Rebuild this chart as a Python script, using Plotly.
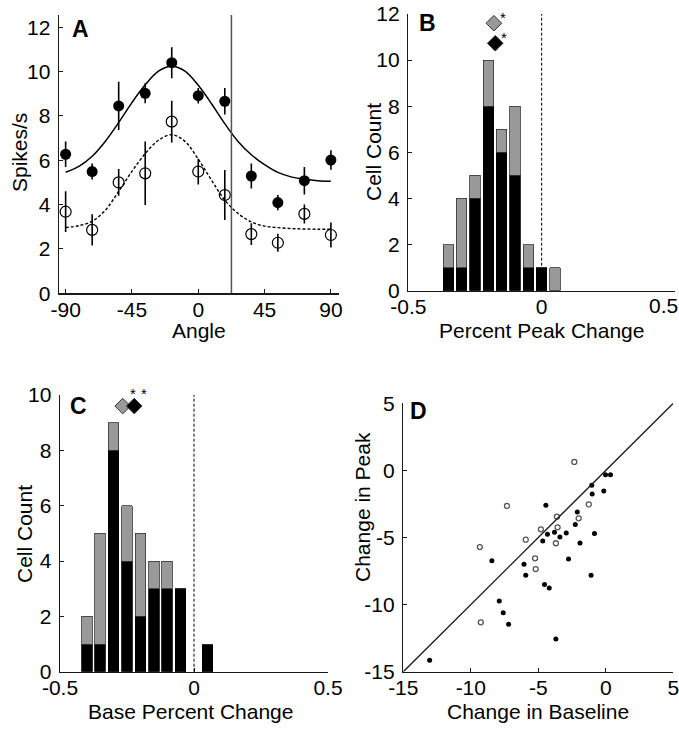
import plotly.graph_objects as go

W, H = 679, 735
FONT = "Liberation Sans, Arial, sans-serif"

# ---------------- Panel A data ----------------
angles = [-90, -72, -54, -36, -18, 0, 18, 36, 54, 72, 90]
control_rate = [6.27, 5.49, 8.45, 9.02, 10.40, 8.91, 8.66, 5.29, 4.09, 5.08, 6.01]
control_err = [0.58, 0.36, 1.09, 0.45, 0.70, 0.35, 0.60, 0.56, 0.34, 0.62, 0.44]
test_rate = [3.68, 2.86, 5.00, 5.41, 7.74, 5.49, 4.43, 2.67, 2.28, 3.58, 2.63]
test_err = [0.92, 0.71, 0.60, 1.43, 0.94, 0.58, 1.13, 0.49, 0.41, 0.43, 0.56]
fit_angles = [-90, -81, -72, -63, -54, -45, -36, -27, -18, -9, 0, 9, 18, 27, 36, 45, 54, 63, 72, 81, 90]
control_fit = [5.46, 5.72, 6.18, 6.86, 7.70, 8.60, 9.40, 10.02, 10.24, 10.02, 9.38, 8.55, 7.65, 6.85, 6.25,
               5.80, 5.45, 5.25, 5.15, 5.08, 5.05]
test_fit = [2.97, 3.05, 3.25, 3.75, 4.60, 5.50, 6.30, 6.90, 7.15, 6.85, 6.05, 5.10, 4.20, 3.60, 3.22,
            3.03, 2.96, 2.92, 2.90, 2.89, 2.89]
boundary_angle = 22.5
a_xticks = [-90, -45, 0, 45, 90]
a_xticktext = ["-90", "-45", "0", "45", "90"]
a_yticks = [0, 2, 4, 6, 8, 10, 12]

# ---------------- Panel B data ----------------
b_bins = [-0.35, -0.30, -0.25, -0.20, -0.15, -0.10, -0.05, 0.00, 0.05]
b_black = [1, 1, 4, 8, 6, 5, 1, 1, 0]
b_gray = [1, 3, 1, 2, 1, 3, 1, 0, 1]
b_mean_x = [-0.179, -0.174]
b_mean_y = [11.6, 10.73]

# ---------------- Panel C data ----------------
c_bins = [-0.40, -0.35, -0.30, -0.25, -0.20, -0.15, -0.10, -0.05, 0.05]
c_black = [1, 1, 8, 4, 2, 3, 3, 3, 1]
c_gray = [1, 4, 1, 2, 3, 1, 1, 0, 0]
c_mean_x = [-0.266, -0.223]
c_mean_y = [9.6, 9.6]

hist_xticks = [-0.5, 0, 0.5]
hist_xticktext = ["-0.5", "0", "0.5"]

# ---------------- Panel D data ----------------
d_open_x = [-2.33, -7.32, -3.62, -1.26, -2.01, -4.81, -3.57, -5.93, -3.70, -9.33, -5.24, -5.19, -9.26]
d_open_y = [0.63, -2.65, -3.45, -2.53, -3.57, -4.39, -4.24, -5.16, -5.43, -5.71, -6.55, -7.35, -11.32]
d_fill_x = [-0.02, 0.35, -1.04, -1.01, -0.15, -4.44, -2.11, -2.26, -0.84, -2.93, -4.32, -3.80, -3.40,
            -4.67, -1.91, -8.44, -2.76, -6.06, -5.93, -1.09, -4.54, -4.19, -7.89, -7.60, -7.20, -3.70, -13.05]
d_fill_y = [-0.33, -0.33, -1.11, -1.76, -1.53, -2.60, -3.10, -4.04, -4.71, -4.66, -4.76, -4.61, -4.96,
            -5.26, -5.41, -6.73, -6.60, -7.00, -7.82, -7.82, -8.51, -8.76, -9.73, -10.60, -11.47, -12.56, -14.15]
d_ticks = [-15, -10, -5, 0, 5]
d_ticktext = ["-15", "-10", "-5", "0", "5"]


def px_x(p):
    return p / W


def px_y(p):
    return 1 - p / H


fig = go.Figure()

# ---- Panel A ----
fig.add_trace(go.Scatter(x=fit_angles, y=control_fit, mode="lines", line=dict(color="black", width=1.5, shape="spline"),
                         xaxis="x", yaxis="y"))
fig.add_trace(go.Scatter(x=fit_angles, y=test_fit, mode="lines",
                         line=dict(color="black", width=1.4, dash="3px,2px", shape="spline"),
                         xaxis="x", yaxis="y"))
fig.add_trace(go.Scatter(x=angles, y=control_rate, mode="markers",
                         marker=dict(color="black", size=11, symbol="circle"),
                         error_y=dict(type="data", array=control_err, color="black", thickness=1.6, width=0),
                         xaxis="x", yaxis="y", cliponaxis=False))
fig.add_trace(go.Scatter(x=angles, y=test_rate, mode="markers",
                         marker=dict(color="black", size=11, symbol="circle-open", line=dict(width=1.2)),
                         error_y=dict(type="data", array=test_err, color="black", thickness=1.6, width=0),
                         xaxis="x", yaxis="y", cliponaxis=False))

# ---- Panel B ----
bar_w = 0.039
fig.add_trace(go.Bar(x=b_bins, y=b_black, width=bar_w, marker=dict(color="black", line=dict(color="black", width=0.8)),
                     xaxis="x2", yaxis="y2"))
fig.add_trace(go.Bar(x=b_bins, y=b_gray, width=bar_w, marker=dict(color="#999999", line=dict(color="#333333", width=0.8)),
                     xaxis="x2", yaxis="y2"))
fig.add_trace(go.Scatter(x=b_mean_x, y=b_mean_y, mode="markers",
                         marker=dict(color=["#999999", "black"], size=12, symbol="diamond",
                                     line=dict(color="#333333", width=1)),
                         xaxis="x2", yaxis="y2", cliponaxis=False))

# ---- Panel C ----
fig.add_trace(go.Bar(x=c_bins, y=c_black, width=bar_w, marker=dict(color="black", line=dict(color="black", width=0.8)),
                     xaxis="x3", yaxis="y3"))
fig.add_trace(go.Bar(x=c_bins, y=c_gray, width=bar_w, marker=dict(color="#999999", line=dict(color="#333333", width=0.8)),
                     xaxis="x3", yaxis="y3"))
fig.add_trace(go.Scatter(x=c_mean_x, y=c_mean_y, mode="markers",
                         marker=dict(color=["#999999", "black"], size=12, symbol="diamond",
                                     line=dict(color="#333333", width=1)),
                         xaxis="x3", yaxis="y3", cliponaxis=False))

# ---- Panel D ----
fig.add_trace(go.Scatter(x=d_fill_x, y=d_fill_y, mode="markers",
                         marker=dict(color="black", size=5, symbol="circle"),
                         xaxis="x4", yaxis="y4"))
fig.add_trace(go.Scatter(x=d_open_x, y=d_open_y, mode="markers",
                         marker=dict(color="white", size=5, symbol="circle", line=dict(color="#555555", width=1.3)),
                         xaxis="x4", yaxis="y4"))

axis_common = dict(showline=True, linecolor="#1a1a1a", linewidth=1.4, showgrid=False, zeroline=False,
                   ticks="inside", ticklen=4, tickwidth=1, tickcolor="#1a1a1a", automargin=False,
                   ticklabeloverflow="allow",
                   tickfont=dict(family=FONT, size=21, color="black"), mirror=False)
x_extra = dict(ticklabelstandoff=-3)
y_extra = dict(ticklabelstandoff=3)

# panel B: last tick label is drawn as an annotation so it can stay inside the page edge
b_ticktext = hist_xticktext[:-1] + [""]

fig.update_layout(
    width=W, height=H, margin=dict(l=0, r=0, t=0, b=0, autoexpand=False),
    paper_bgcolor="white", plot_bgcolor="white", showlegend=False, barmode="stack", bargap=0,
    hovermode=False,
    xaxis=dict(domain=[px_x(59), px_x(339)], range=[-94.5, 95.5], tickvals=a_xticks, ticktext=a_xticktext,
               anchor="y", **x_extra, **axis_common),
    yaxis=dict(domain=[px_y(293.3), px_y(15)], range=[0, 12.55], tickvals=a_yticks, anchor="x",
               **y_extra, **axis_common),
    xaxis2=dict(domain=[px_x(408.3), px_x(675)], range=[-0.5, 0.5], tickvals=hist_xticks, ticktext=b_ticktext,
                anchor="y2", **x_extra, **axis_common),
    yaxis2=dict(domain=[px_y(290.7), px_y(14)], range=[0, 12], tickvals=a_yticks, anchor="x2",
                **y_extra, **axis_common),
    xaxis3=dict(domain=[px_x(60), px_x(328)], range=[-0.5, 0.5], tickvals=hist_xticks, ticktext=hist_xticktext,
                anchor="y3", **x_extra, **axis_common),
    yaxis3=dict(domain=[px_y(671.7), px_y(395)], range=[0, 10], tickvals=[0, 2, 4, 6, 8, 10], anchor="x3",
                **y_extra, **axis_common),
    xaxis4=dict(domain=[px_x(403.3), px_x(673.3)], range=[-15, 5], tickvals=d_ticks, ticktext=d_ticktext,
                anchor="y4", **x_extra, **axis_common),
    yaxis4=dict(domain=[px_y(671.7), px_y(403.3)], range=[-15, 5], tickvals=d_ticks, ticktext=d_ticktext,
                anchor="x4", **y_extra, **axis_common),
)

# last tick label of panel B
fig.add_annotation(text=hist_xticktext[-1], x=hist_xticks[-1], y=0, xref="x2", yref="y2", showarrow=False,
                   font=dict(family=FONT, size=21, color="black"), xanchor="right", yanchor="middle",
                   xshift=5, yshift=-15)

# reference lines
fig.add_shape(type="line", xref="x", yref="y domain", x0=boundary_angle, x1=boundary_angle, y0=0, y1=1,
              line=dict(color="#555555", width=1.5))
fig.add_shape(type="line", xref="x2", yref="y2 domain", x0=0, x1=0, y0=0, y1=1,
              line=dict(color="black", width=1, dash="3px,2px"))
fig.add_shape(type="line", xref="x3", yref="y3 domain", x0=0, x1=0, y0=0, y1=1,
              line=dict(color="black", width=1, dash="3px,2px"))
fig.add_shape(type="line", xref="x4", yref="y4", x0=-15, y0=-15, x1=5, y1=5,
              line=dict(color="#1a1a1a", width=1.4))

title_font = dict(family=FONT, size=21, color="black")
letter_font = dict(family=FONT, size=23, color="black")


def ann(text, x, y, font, angle=0):
    fig.add_annotation(text=text, x=px_x(x), y=px_y(y), xref="paper", yref="paper", showarrow=False,
                       font=font, textangle=angle, xanchor="center", yanchor="middle")


# axis titles
ann("Spikes/s", 19, 153, title_font, -90)
ann("Angle", 199, 331, title_font)
ann("Cell Count", 374, 152, title_font, -90)
ann("Percent Peak Change", 541, 331, title_font)
ann("Cell Count", 24, 534, title_font, -90)
ann("Base Percent Change", 190, 711, title_font)
ann("Change in Peak", 362, 507, title_font, -90)
ann("Change in Baseline", 538, 711, title_font)

# panel letters
ann("<b>A</b>", 80.5, 29, letter_font)
ann("<b>B</b>", 427, 23, letter_font)
ann("<b>C</b>", 78, 406, letter_font)
ann("<b>D</b>", 418.5, 411, letter_font)

# significance stars
star_font = dict(family=FONT, size=15, color="black")
for xv, yv in zip(b_mean_x, b_mean_y):
    fig.add_annotation(text="*", x=xv, y=yv, xref="x2", yref="y2", showarrow=False, font=star_font,
                       xshift=9, yshift=6)
for xv, yv in zip(c_mean_x, c_mean_y):
    fig.add_annotation(text="*", x=xv, y=yv, xref="x3", yref="y3", showarrow=False, font=star_font,
                       xshift=10, yshift=13)

fig.write_html("out.html", config={"displayModeBar": False, "staticPlot": True},
               post_script="document.body.style.margin='0';")
